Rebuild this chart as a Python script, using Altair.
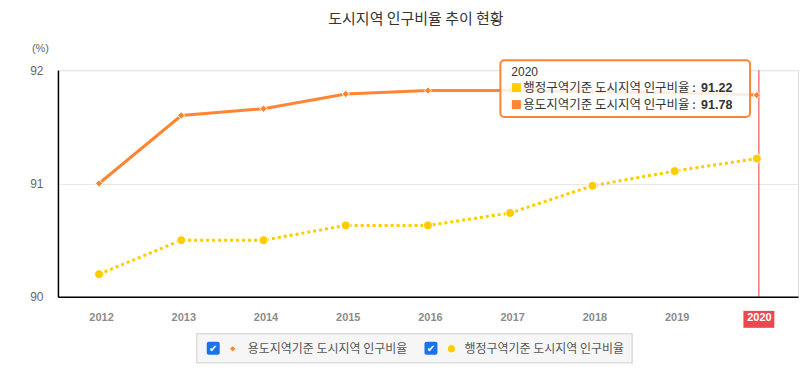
import altair as alt
import pandas as pd

# ---- data ----
years = ["2012", "2013", "2014", "2015", "2016", "2017", "2018", "2019", "2020"]
landuse_ratio = [91.00, 91.60, 91.66, 91.79, 91.82, 91.82, 91.81, 91.80, 91.78]
admin_ratio = [90.20, 90.50, 90.50, 90.63, 90.63, 90.74, 90.98, 91.11, 91.22]
series_names = ["용도지역기준 도시지역 인구비율", "행정구역기준 도시지역 인구비율"]
series_colors = ["#FF8533", "#FFCC00"]
y_domain = [90, 92]
title_text = "도시지역 인구비율 추이 현황"
unit_text = "(%)"
focus_year = "2020"

FONT = "Noto Sans CJK KR"
NUMFONT = "Liberation Sans"
W, H = 741, 227

df = pd.DataFrame({
    "year": years + years,
    "series": [series_names[0]] * len(years) + [series_names[1]] * len(years),
    "value": landuse_ratio + admin_ratio,
})

xenc = alt.X(
    "year:O",
    scale=alt.Scale(type="point", padding=0.5),
    axis=alt.Axis(
        title=None, labelAngle=0, ticks=False, grid=False,
        domainColor="#000000", domainWidth=1.5,
        labelColor={"expr": f"datum.value == '{focus_year}' ? '#ffffff' : '#8c8c8c'"},
        labelFont=NUMFONT, labelFontSize=11, labelFontWeight="bold",
        labelPadding=15, labelOffset=2, zindex=1,
    ),
)
yenc = alt.Y(
    "value:Q",
    scale=alt.Scale(domain=y_domain, nice=False, zero=False),
    axis=alt.Axis(
        tickCount=2, format="d", ticks=False, grid=True, gridColor="#e8e8e8",
        domainColor="#000000", domainWidth=1.5, labelOverlap=False,
        labelColor="#666666", labelFont=NUMFONT, labelFontSize=12, labelPadding=15,
        title=unit_text, titleAngle=0, titleX=-18, titleY=-22, titleAlign="center",
        titleBaseline="middle", titleFont=NUMFONT, titleFontSize=11,
        titleFontWeight="normal", titleColor="#666666",
    ),
)

base = alt.Chart(df)
s0 = alt.datum.series == series_names[0]
s1 = alt.datum.series == series_names[1]
focus = alt.datum.year == focus_year

layers = []

# crosshair at focus year
layers.append(
    base.transform_filter(focus & s0).mark_rule(color="#EE3B3B", strokeWidth=1, xOffset=2)
    .encode(x=xenc, y=alt.value(0), y2=alt.value(H))
)

# orange series
layers.append(
    base.transform_filter(s0).mark_line(color=series_colors[0], strokeWidth=3)
    .encode(x=xenc, y=yenc)
)
layers.append(
    base.transform_filter(s0).mark_point(shape="diamond", filled=True, size=55,
                                         color=series_colors[0], stroke="white",
                                         strokeWidth=1, opacity=1)
    .encode(x=xenc, y=yenc)
)
# yellow series
layers.append(
    base.transform_filter(s1).mark_line(color=series_colors[1], strokeWidth=3,
                                        strokeDash=[3, 3])
    .encode(x=xenc, y=yenc)
)
layers.append(
    base.transform_filter(s1).mark_point(shape="circle", filled=True, size=80,
                                         color=series_colors[1], stroke="white",
                                         strokeWidth=1, opacity=1)
    .encode(x=xenc, y=yenc)
)

# red highlight box behind focus x label
layers.append(
    base.transform_filter(focus & s0).mark_bar(color="#E84A4F", size=31, xOffset=2)
    .encode(x=xenc, y=alt.value(H + 14), y2=alt.value(H + 31))
)

# ---- tooltip ----
layers.append(
    base.transform_filter(focus & s0).mark_rect(
        fill="white", fillOpacity=0.85, stroke=series_colors[0], strokeWidth=2,
        cornerRadius=4)
    .encode(x=alt.value(443), x2=alt.value(693), y=alt.value(-10), y2=alt.value(47))
)
layers.append(
    base.transform_filter(focus & s0).mark_text(
        align="left", baseline="middle", font=NUMFONT, fontSize=12, color="#333333")
    .encode(text="year:N", x=alt.value(454), y=alt.value(1.5))
)
tip_rows = [(1, 17.5), (0, 34.5)]  # (series index, y position)
for idx, ypos in tip_rows:
    sel = alt.datum.series == series_names[idx]
    layers.append(
        base.transform_filter(focus & sel).mark_square(
            size=81, color=series_colors[idx], filled=True, opacity=1)
        .encode(x=alt.value(459), y=alt.value(ypos))
    )
    layers.append(
        base.transform_filter(focus & sel)
        .transform_calculate(label="datum.series + ' :'")
        .mark_text(align="left", baseline="middle", font=FONT, fontSize=12.5,
                   color="#333333")
        .encode(text="label:N", x=alt.value(466), y=alt.value(ypos))
    )
    layers.append(
        base.transform_filter(focus & sel).mark_text(
            align="left", baseline="middle", font=NUMFONT, fontSize=12.5,
            fontWeight="bold", color="#333333")
        .encode(text=alt.Text("value:Q", format=".2f"), x=alt.value(644),
                y=alt.value(ypos))
    )

# ---- legend (checkbox style) ----
LY = 279
layers.append(
    base.transform_filter(focus & s0).mark_rect(fill="#f6f6f6", stroke="#dddddd",
                                                strokeWidth=1.5)
    .encode(x=alt.value(139), x2=alt.value(575), y=alt.value(264), y2=alt.value(293))
)
legend_items = [
    (0, 149, 175, 190, "diamond", 40),
    (1, 367, 394, 407, "circle", 70),
]
for idx, cbx, symx, txtx, shape, size in legend_items:
    sel = alt.datum.series == series_names[idx]
    one = base.transform_filter(focus & sel)
    layers.append(
        one.mark_rect(fill="#1a73e8", cornerRadius=2)
        .encode(x=alt.value(cbx), x2=alt.value(cbx + 13),
                y=alt.value(LY - 7), y2=alt.value(LY + 6))
    )
    layers.append(
        one.transform_calculate(chk="'✔'")
        .mark_text(font="DejaVu Sans", fontSize=10, color="white",
                   align="center", baseline="middle")
        .encode(text="chk:N", x=alt.value(cbx + 6.5), y=alt.value(LY))
    )
    layers.append(
        one.mark_point(shape=shape, filled=True, size=size, color=series_colors[idx],
                       stroke="white", strokeWidth=1, opacity=1)
        .encode(x=alt.value(symx), y=alt.value(LY))
    )
    layers.append(
        one.mark_text(align="left", baseline="middle", font=FONT, fontSize=12,
                      color="#555555")
        .encode(text="series:N", x=alt.value(txtx), y=alt.value(LY))
    )

chart = alt.layer(*layers).properties(
    width=W, height=H,
    title=alt.Title(title_text, font=FONT, fontSize=15, fontWeight="normal",
                    color="#333333", anchor="middle", frame="group", dx=-12,
                    offset=15),
    autosize=alt.AutoSizeParams(type="none"),
    padding={"left": 50, "top": 62, "right": 2, "bottom": 70},
).configure_view(stroke=None).configure(background="white")

chart.save("out.html", embed_options={"renderer": "svg", "actions": False})
